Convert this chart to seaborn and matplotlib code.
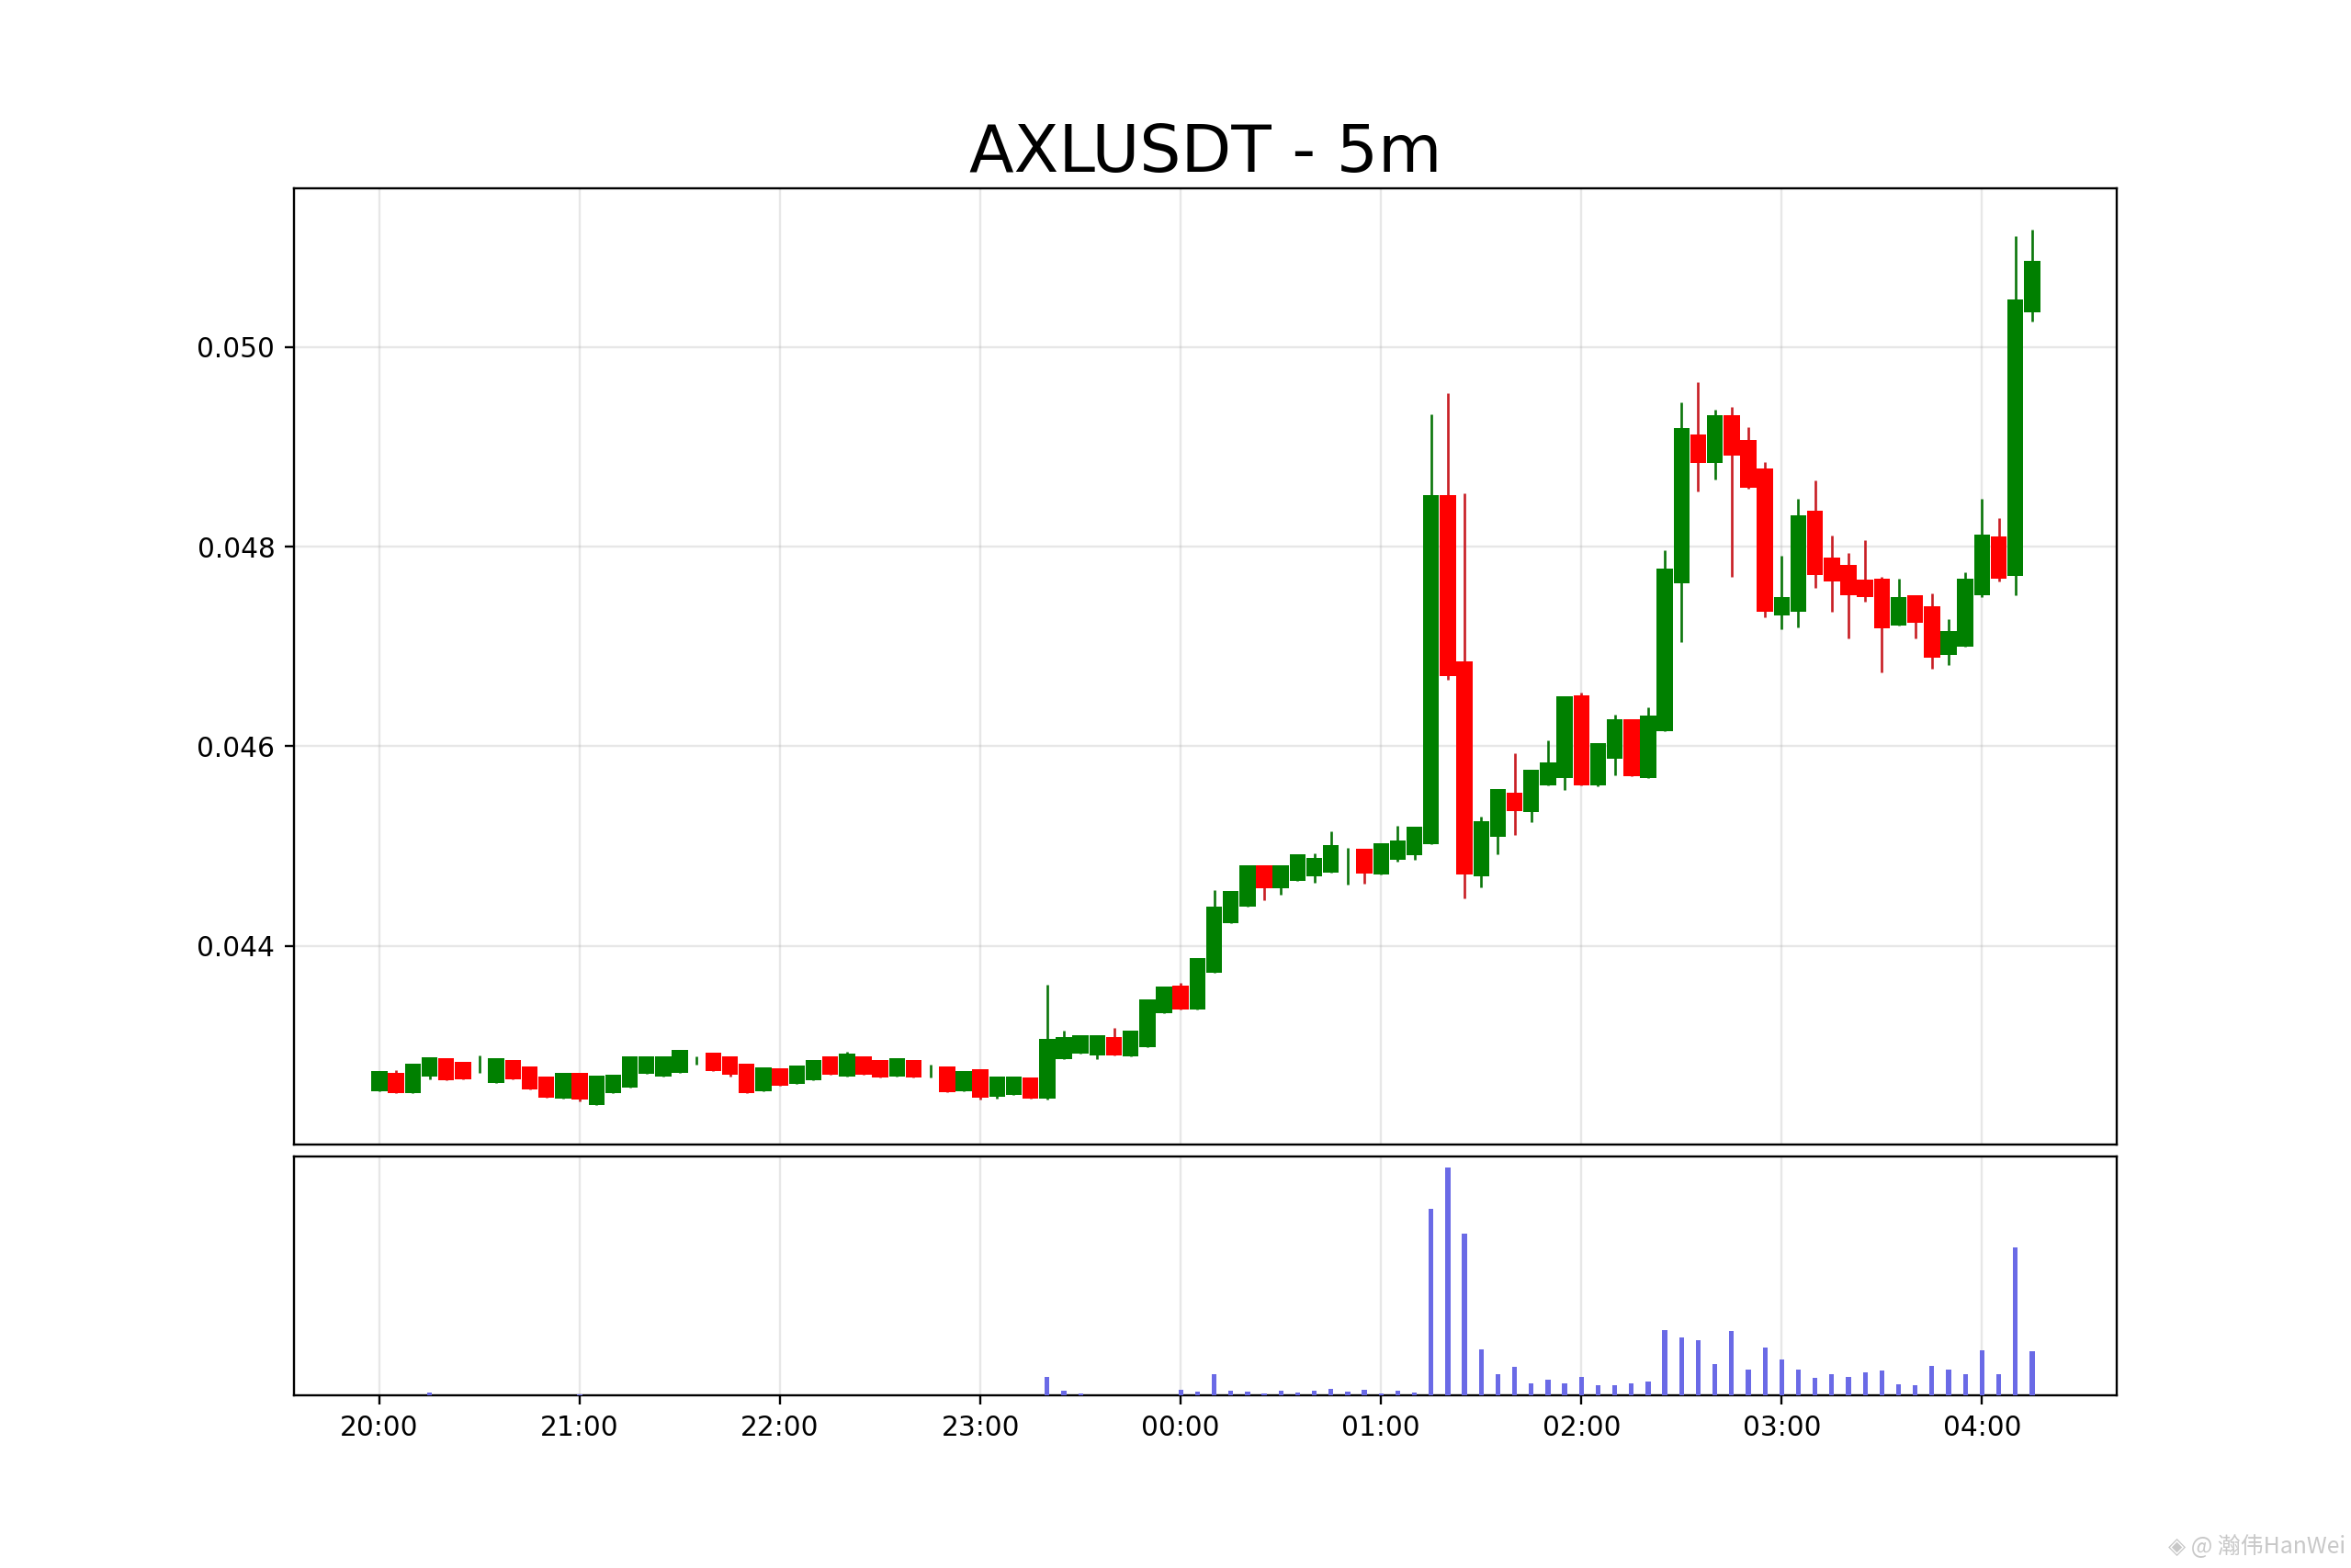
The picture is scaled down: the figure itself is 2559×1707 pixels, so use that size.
"""
Candlestick chart of AXLUSDT on 5m candles with a volume panel below.
"""

import matplotlib.dates as mdates
import matplotlib.pyplot as plt
import pandas as pd
import seaborn as sns

# values, in units of 0.00001
open_vals = [
    4254.5, 4273.0, 4252.4, 4269.0, 4287.0, 4283.4, 4280.0, 4262.5, 4285.5, 4278.8,
    4268.7, 4246.9, 4272.3, 4240.7, 4252.4, 4257.9, 4271.7, 4269.0, 4273.0, 4285.0,
    4292.9, 4288.9, 4281.6, 4254.2, 4277.0, 4261.6, 4265.3, 4288.9, 4269.0, 4288.9,
    4285.2, 4269.0, 4285.5, 4275.0, 4278.8, 4254.2, 4276.0, 4249.0, 4250.6, 4268.4,
    4247.2, 4286.2, 4292.1, 4290.5, 4308.3, 4289.0, 4298.2, 4332.6, 4359.9, 4336.6,
    4372.8, 4422.8, 4438.8, 4480.8, 4457.8, 4464.9, 4469.8, 4473.4, 4480.0, 4497.1,
    4471.6, 4486.4, 4490.5, 4501.6, 4851.1, 4684.8, 4469.9, 4509.0, 4553.4, 4534.0,
    4561.1, 4568.2, 4651.0, 4561.1, 4587.5, 4627.0, 4568.2, 4615.0, 4762.9, 4912.2,
    4883.4, 4931.5, 4907.1, 4878.3, 4731.2, 4735.0, 4835.5, 4789.2, 4781.6, 4767.0,
    4768.0, 4720.4, 4750.8, 4740.4, 4690.9, 4699.5, 4751.1, 4810.1, 4770.8, 5034.9,
]
close_vals = [
    4274.8, 4252.7, 4281.9, 4288.0, 4265.3, 4265.9, 4280.0, 4287.0, 4265.9, 4256.4,
    4248.1, 4272.3, 4245.6, 4269.9, 4270.5, 4288.9, 4288.9, 4288.9, 4295.4, 4285.0,
    4274.8, 4270.8, 4252.4, 4277.9, 4259.8, 4279.7, 4285.5, 4270.8, 4291.7, 4270.8,
    4268.0, 4287.0, 4268.0, 4275.0, 4253.0, 4274.5, 4248.1, 4268.7, 4268.7, 4247.2,
    4306.5, 4308.3, 4310.2, 4310.2, 4290.5, 4314.8, 4346.1, 4359.0, 4336.2, 4387.8,
    4439.0, 4454.7, 4480.8, 4457.8, 4481.1, 4491.3, 4487.9, 4500.5, 4480.0, 4472.5,
    4502.6, 4505.8, 4519.5, 4851.1, 4670.3, 4471.6, 4525.2, 4556.9, 4535.0, 4576.3,
    4583.7, 4649.9, 4561.1, 4603.0, 4627.0, 4569.9, 4630.9, 4777.8, 4918.9, 4883.4,
    4931.5, 4891.3, 4858.9, 4735.0, 4749.6, 4831.0, 4771.8, 4765.4, 4750.8, 4749.2,
    4717.9, 4749.6, 4723.9, 4689.0, 4715.3, 4768.0, 4812.0, 4767.3, 5047.6, 5086.3,
]
high_vals = [
    4274.8, 4275.0, 4281.9, 4288.0, 4287.0, 4283.4, 4290.5, 4287.0, 4285.5, 4278.8,
    4268.7, 4272.3, 4272.3, 4269.9, 4270.5, 4288.9, 4288.9, 4288.9, 4295.4, 4288.9,
    4292.9, 4288.9, 4281.6, 4277.9, 4277.0, 4279.7, 4285.5, 4288.9, 4293.5, 4288.9,
    4285.2, 4287.0, 4285.5, 4280.6, 4278.8, 4274.5, 4276.0, 4268.7, 4268.7, 4268.4,
    4360.8, 4314.8, 4310.2, 4310.2, 4317.5, 4314.8, 4346.1, 4359.0, 4363.0, 4387.8,
    4455.6, 4454.7, 4480.8, 4480.8, 4481.1, 4491.3, 4492.5, 4514.6, 4498.0, 4497.1,
    4502.6, 4520.6, 4519.5, 4932.1, 4954.0, 4852.9, 4529.4, 4556.9, 4593.2, 4576.3,
    4606.2, 4649.9, 4653.8, 4603.0, 4631.6, 4627.0, 4639.0, 4796.5, 4944.2, 4964.8,
    4936.6, 4939.5, 4919.2, 4885.0, 4790.8, 4847.5, 4865.9, 4811.0, 4793.9, 4806.3,
    4769.2, 4767.6, 4750.8, 4753.0, 4727.4, 4774.0, 4847.8, 4828.5, 5111.0, 5117.3,
]
low_vals = [
    4254.5, 4252.7, 4252.4, 4266.0, 4265.3, 4265.9, 4273.0, 4262.5, 4265.9, 4256.4,
    4248.1, 4246.9, 4244.4, 4240.7, 4252.4, 4257.9, 4271.7, 4269.0, 4273.0, 4280.6,
    4274.8, 4269.0, 4252.4, 4254.2, 4259.8, 4261.6, 4265.3, 4270.8, 4269.0, 4270.8,
    4268.0, 4269.0, 4268.0, 4268.0, 4253.0, 4254.2, 4246.0, 4246.9, 4250.6, 4247.2,
    4246.0, 4286.2, 4292.1, 4286.5, 4290.5, 4289.0, 4298.2, 4332.6, 4336.2, 4336.6,
    4372.8, 4422.8, 4438.8, 4445.5, 4451.3, 4464.9, 4463.3, 4473.4, 4460.9, 4461.8,
    4471.6, 4483.9, 4486.3, 4501.6, 4666.8, 4447.6, 4458.2, 4491.7, 4511.1, 4524.1,
    4561.1, 4556.2, 4561.1, 4559.7, 4571.0, 4569.9, 4568.2, 4615.0, 4704.2, 4854.8,
    4867.5, 4769.2, 4858.0, 4729.0, 4716.9, 4719.4, 4758.1, 4735.0, 4708.3, 4744.5,
    4674.1, 4720.4, 4708.3, 4677.3, 4681.4, 4699.5, 4748.9, 4765.4, 4750.8, 5025.4,
]
volume_vals = [
    0, 0, 0, 9, 0, 0, 0, 0, 0, 0,
    0, 0, 4, 0, 0, 0, 0, 0, 0, 0,
    0, 0, 0, 0, 0, 0, 0, 0, 0, 0,
    0, 0, 0, 0, 0, 0, 0, 0, 0, 0,
    61, 16, 6, 2, 2, 1, 2, 1, 18, 13,
    70, 16, 13, 8, 16, 10, 16, 23, 13, 19,
    8, 17, 9, 610, 745, 529, 150, 69, 94, 40,
    52, 40, 62, 34, 34, 40, 47, 214, 190, 181,
    104, 211, 84, 157, 118, 84, 58, 69, 61, 77,
    82, 37, 33, 97, 84, 70, 148, 70, 483, 145,
]

title_text = "AXLUSDT - 5m"
start_time = "2024-01-01 20:00"

df = pd.DataFrame({
    "time": pd.date_range(start_time, periods=len(open_vals), freq="5min"),
    "open": open_vals,
    "close": close_vals,
    "high": high_vals,
    "low": low_vals,
    "volume": volume_vals,
})
for col in ["open", "close", "high", "low"]:
    df[col] = df[col] * 1e-5
df["date"] = mdates.date2num(df["time"])
df["color"] = ["green" if c >= o else "red" for o, c in zip(df["open"], df["close"])]

step = df["date"].iloc[1] - df["date"].iloc[0]

sns.set_style("ticks")
plt.rcParams["font.family"] = ["DejaVu Sans"]
plt.rcParams["text.color"] = "black"
plt.rcParams["xtick.color"] = "black"
plt.rcParams["ytick.color"] = "black"

fig, (ax_price, ax_vol) = plt.subplots(
    2, 1, figsize=(12, 8.002), dpi=213.333, sharex=True,
    gridspec_kw={"height_ratios": [4, 1], "hspace": 0.02},
)

# wicks first, bodies on top
wick_colors = df["color"].map({"green": "#0a760a", "red": "#c81e24"})
ax_price.vlines(df["date"], df["low"], df["high"], colors=wick_colors, linewidth=0.9, zorder=2)
ax_price.bar(
    df["date"], (df["close"] - df["open"]).abs(), bottom=df[["open", "close"]].min(axis=1),
    width=step * 0.96, color=df["color"], linewidth=0, zorder=3,
)
ax_price.set_title(title_text, fontsize=24, pad=6)
ax_price.set_ylim(0.04201, 0.05159)
ax_price.set_yticks([0.044, 0.046, 0.048, 0.050])
ax_price.set_yticklabels(["0.044", "0.046", "0.048", "0.050"])
ax_price.grid(True, color="#b0b0b0", alpha=0.3, linewidth=0.8)
ax_price.set_axisbelow(True)
ax_price.tick_params(axis="x", length=0, labelbottom=False)
ax_price.tick_params(axis="y", length=3.5, width=0.8, pad=3.5)

# seaborn's style puts a white edge on bars, it eats the thin ones
sns.barplot(
    data=df, x="date", y="volume", native_scale=True, width=0.29,
    color="#6a6ae6", saturation=1, linewidth=0, edgecolor="none", ax=ax_vol, zorder=3,
)
ax_vol.set_ylim(0, 780)
ax_vol.set_yticks([])
ax_vol.set_xlabel("")
ax_vol.set_ylabel("")
ax_vol.grid(True, axis="x", color="#b0b0b0", alpha=0.3, linewidth=0.8)
ax_vol.set_axisbelow(True)

ax_vol.set_xlim(df["date"].iloc[0] - 5.12 * step, df["date"].iloc[0] + 104.07 * step)
ax_vol.xaxis.set_major_locator(mdates.HourLocator())
ax_vol.xaxis.set_major_formatter(mdates.DateFormatter("%H:%M"))
ax_vol.tick_params(axis="x", length=3.5, width=0.8, pad=3.5)

for ax in (ax_price, ax_vol):
    for spine in ax.spines.values():
        spine.set_visible(True)
        spine.set_color("black")
        spine.set_linewidth(0.8)

fig.text(0.9975, 0.0095, "◈ @ 瀚伟HanWei", ha="right", va="baseline", fontsize=8.4, color="#c8c8c8",
         family=["Noto Sans CJK SC", "DejaVu Sans"])

fig.savefig("out.png", dpi=213.333)
